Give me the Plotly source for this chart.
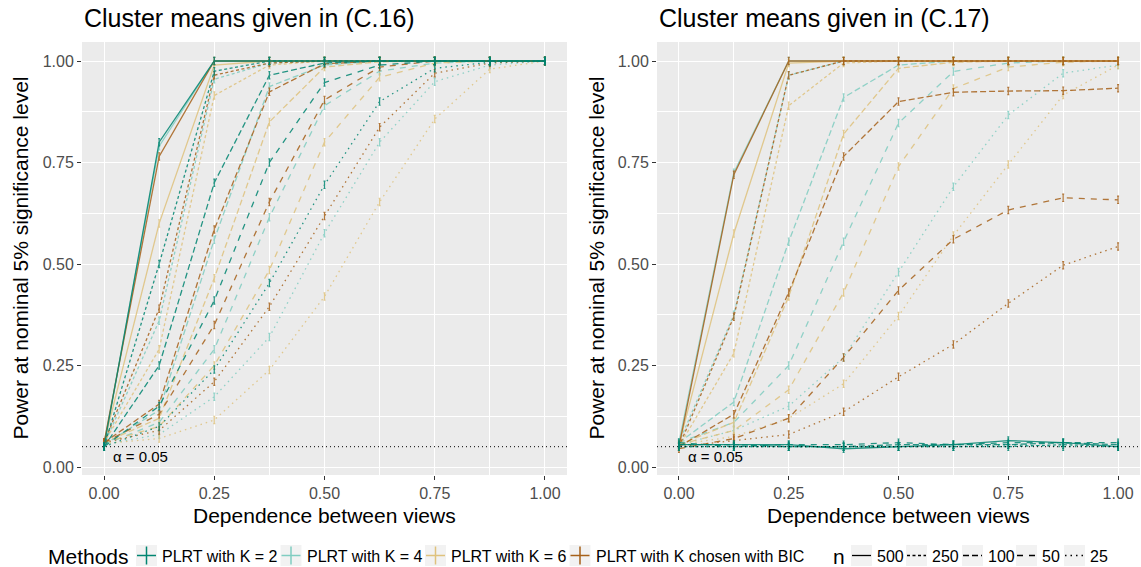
import plotly.graph_objects as go

# ---------------- data ----------------
DEPENDENCE = [0, 0.125, 0.25, 0.375, 0.5, 0.625, 0.75, 0.875, 1.0]
METHODS = ["PLRT with K = 2", "PLRT with K = 4", "PLRT with K = 6", "PLRT with K chosen with BIC"]
N_VALUES = ["500", "250", "100", "50", "25"]
ALPHA = 0.05
PANEL_TITLES = ["Cluster means given in (C.16)", "Cluster means given in (C.17)"]
X_TICKS = [0, 0.25, 0.5, 0.75, 1.0]
Y_TICKS = [0, 0.25, 0.5, 0.75, 1.0]

# Panel (C.16): power per method, per n
c16_k2 = {
    "500": [0.050, 0.800, 1.000, 1.000, 1.000, 1.000, 1.000, 1.000, 1.000],
    "250": [0.050, 0.500, 0.975, 1.000, 1.000, 1.000, 1.000, 1.000, 1.000],
    "100": [0.050, 0.250, 0.700, 0.965, 0.995, 1.000, 1.000, 1.000, 1.000],
    "50":  [0.050, 0.150, 0.410, 0.750, 0.947, 0.990, 1.000, 1.000, 1.000],
    "25":  [0.050, 0.100, 0.240, 0.453, 0.695, 0.900, 0.982, 0.997, 1.000],
}
c16_k4 = {
    "500": [0.055, 0.790, 1.000, 1.000, 1.000, 1.000, 1.000, 1.000, 1.000],
    "250": [0.055, 0.360, 0.955, 0.995, 1.000, 1.000, 1.000, 1.000, 1.000],
    "100": [0.055, 0.140, 0.560, 0.937, 0.990, 1.000, 1.000, 1.000, 1.000],
    "50":  [0.055, 0.110, 0.290, 0.615, 0.890, 0.975, 0.995, 1.000, 1.000],
    "25":  [0.055, 0.080, 0.173, 0.320, 0.576, 0.800, 0.949, 0.990, 1.000],
}
c16_k6 = {
    "500": [0.060, 0.600, 0.990, 1.000, 1.000, 1.000, 1.000, 1.000, 1.000],
    "250": [0.060, 0.290, 0.915, 0.990, 1.000, 1.000, 1.000, 1.000, 1.000],
    "100": [0.060, 0.120, 0.465, 0.850, 0.985, 0.998, 1.000, 1.000, 1.000],
    "50":  [0.060, 0.100, 0.250, 0.485, 0.800, 0.960, 0.995, 1.000, 1.000],
    "25":  [0.058, 0.070, 0.116, 0.239, 0.420, 0.653, 0.857, 0.980, 1.000],
}
c16_bic = {
    "500": [0.060, 0.765, 1.000, 1.000, 1.000, 1.000, 1.000, 1.000, 1.000],
    "250": [0.060, 0.390, 0.965, 0.995, 1.000, 1.000, 1.000, 1.000, 1.000],
    "100": [0.060, 0.155, 0.585, 0.924, 0.993, 1.000, 1.000, 1.000, 1.000],
    "50":  [0.060, 0.130, 0.350, 0.653, 0.904, 0.985, 1.000, 1.000, 1.000],
    "25":  [0.060, 0.090, 0.210, 0.395, 0.618, 0.837, 0.970, 0.995, 1.000],
}

# Panel (C.17)
c17_k2 = {
    "500": [0.055, 0.055, 0.055, 0.045, 0.050, 0.055, 0.065, 0.060, 0.050],
    "250": [0.050, 0.050, 0.050, 0.050, 0.050, 0.050, 0.050, 0.055, 0.050],
    "100": [0.055, 0.055, 0.050, 0.050, 0.055, 0.055, 0.055, 0.060, 0.055],
    "50":  [0.060, 0.050, 0.055, 0.055, 0.060, 0.055, 0.060, 0.060, 0.060],
    "25":  [0.050, 0.050, 0.050, 0.050, 0.050, 0.050, 0.055, 0.050, 0.050],
}
c17_k4 = {
    "500": [0.060, 0.725, 1.000, 1.000, 1.000, 1.000, 1.000, 1.000, 1.000],
    "250": [0.060, 0.375, 0.965, 1.000, 1.000, 1.000, 1.000, 1.000, 1.000],
    "100": [0.060, 0.160, 0.555, 0.910, 0.990, 1.000, 1.000, 1.000, 1.000],
    "50":  [0.060, 0.110, 0.250, 0.555, 0.847, 0.974, 0.995, 1.000, 1.000],
    "25":  [0.055, 0.090, 0.150, 0.270, 0.480, 0.690, 0.867, 0.970, 0.990],
}
c17_k6 = {
    "500": [0.055, 0.575, 0.995, 1.000, 1.000, 1.000, 1.000, 1.000, 1.000],
    "250": [0.050, 0.280, 0.890, 0.995, 1.000, 1.000, 1.000, 1.000, 1.000],
    "100": [0.055, 0.110, 0.420, 0.820, 0.982, 0.997, 1.000, 1.000, 1.000],
    "50":  [0.055, 0.090, 0.190, 0.430, 0.740, 0.932, 0.985, 0.997, 1.000],
    "25":  [0.055, 0.075, 0.120, 0.205, 0.372, 0.570, 0.745, 0.916, 0.990],
}
c17_bic = {
    "500": [0.050, 0.720, 1.000, 1.000, 1.000, 1.000, 1.000, 1.000, 1.000],
    "250": [0.050, 0.370, 0.965, 1.000, 1.000, 1.000, 1.000, 1.000, 1.000],
    "100": [0.050, 0.130, 0.430, 0.765, 0.900, 0.923, 0.926, 0.927, 0.933],
    "50":  [0.045, 0.070, 0.120, 0.270, 0.435, 0.561, 0.633, 0.663, 0.658],
    "25":  [0.050, 0.065, 0.080, 0.136, 0.222, 0.302, 0.403, 0.497, 0.543],
}

PANELS = [
    {"K2": c16_k2, "K4": c16_k4, "K6": c16_k6, "BIC": c16_bic},
    {"K2": c17_k2, "K4": c17_k4, "K6": c17_k6, "BIC": c17_bic},
]

# ---------------- style ----------------
W, H = 1141, 567
METHOD_KEYS = ["K2", "K4", "K6", "BIC"]
COLORS = {"K2": "#018571", "K4": "#80cdc1", "K6": "#dfc27d", "BIC": "#a6611a"}
DASHES = {"500": "solid", "250": "3px,2.5px", "100": "6px,3px", "50": "6px,6px", "25": "1.5px,4px"}
DRAW_ORDER = ["K4", "K6", "BIC", "K2"]
FONT = "Liberation Sans, Arial, sans-serif"

def px_x(p):
    return p / W

def px_y(p):
    return 1 - p / H

# panel pixel boxes (left, right, top, bottom)
BOXES = [(82, 567, 42, 475), (657, 1140, 42, 475)]

fig = go.Figure()

for pi, panel in enumerate(PANELS):
    xa = "x" if pi == 0 else "x2"
    ya = "y" if pi == 0 else "y2"
    for mk in DRAW_ORDER:
        for n in N_VALUES:
            fig.add_trace(go.Scatter(
                x=DEPENDENCE, y=panel[mk][n], xaxis=xa, yaxis=ya,
                mode="lines",
                line=dict(color=COLORS[mk], width=1.3, dash=DASHES[n]),
                error_y=dict(type="constant", value=0.009, width=1.0,
                             thickness=1.2, color=COLORS[mk]),
                opacity=0.85, showlegend=False, hoverinfo="skip",
            ))

axis_common = dict(
    showgrid=True, gridcolor="white", gridwidth=1.2,
    zeroline=False, showline=False,
    ticks="outside", ticklen=4, tickwidth=1, tickcolor="#333333",
    tickfont=dict(family=FONT, size=16, color="#4d4d4d"),
    tickformat=".2f", automargin=False,
)

layout = dict(
    width=W, height=H,
    margin=dict(l=0, r=0, t=0, b=0),
    paper_bgcolor="white", plot_bgcolor="#ebebeb",
    showlegend=False,
    font=dict(family=FONT, color="black"),
)

for pi, (l, r, t, b) in enumerate(BOXES):
    sx = "" if pi == 0 else "2"
    layout["xaxis" + sx] = dict(
        axis_common, domain=[px_x(l), px_x(r)], range=[-0.05, 1.05],
        tickvals=X_TICKS, anchor="y" + sx,
        minor=dict(dtick=0.125, tick0=0, showgrid=True, gridcolor="white", gridwidth=0.6, ticks=""),
    )
    layout["yaxis" + sx] = dict(
        axis_common, domain=[px_y(b), px_y(t)], range=[-0.0197, 1.0468],
        tickvals=Y_TICKS, anchor="x" + sx,
        minor=dict(dtick=0.125, tick0=0, showgrid=True, gridcolor="white", gridwidth=0.6, ticks=""),
    )

fig.update_layout(**layout)

shapes = []
annotations = []
for pi, (l, r, t, b) in enumerate(BOXES):
    sx = "" if pi == 0 else "2"
    # significance line
    shapes.append(dict(type="line", xref=("x" if pi == 0 else "x2") + " domain", x0=0, x1=1,
                       yref="y" + sx, y0=ALPHA, y1=ALPHA,
                       line=dict(color="black", width=1, dash="1px,3px")))
    annotations.append(dict(xref="x" + sx, yref="y" + sx, x=0.015, y=0.025,
                            text="α = 0.05", showarrow=False, xanchor="left", yanchor="middle",
                            font=dict(family=FONT, size=15, color="black")))
    # panel title
    annotations.append(dict(xref="paper", yref="paper", x=px_x(l), y=px_y(17.5),
                            text=PANEL_TITLES[pi], showarrow=False, xanchor="left", yanchor="middle",
                            font=dict(family=FONT, size=25, color="black")))
    # axis titles
    annotations.append(dict(xref="paper", yref="paper", x=px_x((l + r) / 2), y=px_y(515),
                            text="Dependence between views", showarrow=False,
                            xanchor="center", yanchor="middle",
                            font=dict(family=FONT, size=21, color="black")))
    annotations.append(dict(xref="paper", yref="paper", x=px_x(20 if pi == 0 else 596), y=px_y((t + b) / 2),
                            text="Power at nominal 5% significance level", showarrow=False, textangle=-90,
                            xanchor="center", yanchor="middle",
                            font=dict(family=FONT, size=21, color="black")))

# ---------------- legend (manual) ----------------
KEY_TOP, KEY_BOT = 545, 566
KEY_MID = (KEY_TOP + KEY_BOT) / 2
TEXT_Y = 556

annotations.append(dict(xref="paper", yref="paper", x=px_x(46), y=px_y(TEXT_Y), text="Methods",
                        showarrow=False, xanchor="left", yanchor="middle",
                        font=dict(family=FONT, size=21, color="black")))
method_keys_px = [136, 280.5, 425, 569.5]
for mk, label, kx in zip(METHOD_KEYS, METHODS, method_keys_px):
    shapes.append(dict(type="rect", xref="paper", yref="paper",
                       x0=px_x(kx), x1=px_x(kx + 21), y0=px_y(KEY_BOT), y1=px_y(KEY_TOP),
                       fillcolor="#f2f2f2", line=dict(width=0), layer="below"))
    shapes.append(dict(type="line", xref="paper", yref="paper",
                       x0=px_x(kx + 1), x1=px_x(kx + 20), y0=px_y(KEY_MID), y1=px_y(KEY_MID),
                       line=dict(color=COLORS[mk], width=1.5)))
    shapes.append(dict(type="line", xref="paper", yref="paper",
                       x0=px_x(kx + 10.5), x1=px_x(kx + 10.5), y0=px_y(KEY_TOP + 1.5), y1=px_y(KEY_BOT - 1.5),
                       line=dict(color=COLORS[mk], width=1.5)))
    annotations.append(dict(xref="paper", yref="paper", x=px_x(kx + 24), y=px_y(TEXT_Y), text=label,
                            showarrow=False, xanchor="left", yanchor="middle",
                            font=dict(family=FONT, size=16, color="black")))

annotations.append(dict(xref="paper", yref="paper", x=px_x(831), y=px_y(TEXT_Y), text="n",
                        showarrow=False, xanchor="left", yanchor="middle",
                        font=dict(family=FONT, size=21, color="black")))
n_keys_px = [851, 906, 962, 1016, 1064]
for n, kx in zip(N_VALUES, n_keys_px):
    shapes.append(dict(type="rect", xref="paper", yref="paper",
                       x0=px_x(kx), x1=px_x(kx + 21), y0=px_y(KEY_BOT), y1=px_y(KEY_TOP),
                       fillcolor="#f2f2f2", line=dict(width=0), layer="below"))
    shapes.append(dict(type="line", xref="paper", yref="paper",
                       x0=px_x(kx + 1), x1=px_x(kx + 20), y0=px_y(KEY_MID), y1=px_y(KEY_MID),
                       line=dict(color="black", width=1.3, dash=DASHES[n])))
    annotations.append(dict(xref="paper", yref="paper", x=px_x(kx + 24), y=px_y(TEXT_Y), text=n,
                            showarrow=False, xanchor="left", yanchor="middle",
                            font=dict(family=FONT, size=16, color="black")))

fig.update_layout(shapes=shapes, annotations=annotations)

fig.write_html(
    "out.html",
    config={"displayModeBar": False, "staticPlot": False},
    post_script="document.body.style.margin='0';document.body.style.padding='0';"
                "document.documentElement.style.overflow='hidden';",
)
